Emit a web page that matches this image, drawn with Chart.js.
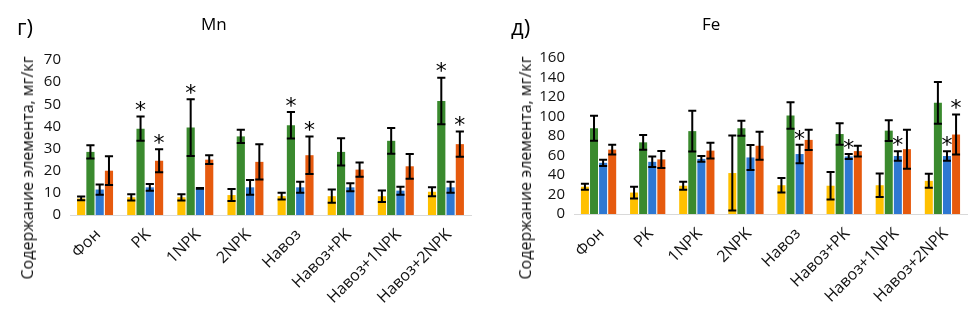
<!DOCTYPE html>
<html>
<head>
<meta charset="utf-8">
<script src="https://cdn.jsdelivr.net/npm/chart.js@4/dist/chart.umd.min.js"></script>
<style>
  html,body{margin:0;padding:0;background:#fff;}
  body{width:975px;height:314px;position:relative;overflow:hidden;font-family:"Open Sans",sans-serif;color:#000;}
  .pane{position:absolute;top:0;height:314px;}
  .lbl{position:absolute;white-space:nowrap;line-height:1;}
  .ytitle{position:absolute;white-space:nowrap;font-size:16px;line-height:1;transform:translate(-50%,-50%) rotate(-90deg);color:#111;}
</style>
</head>
<body>
<div class="pane" style="left:0;width:487px;"><canvas id="c1" width="487" height="314"></canvas></div>
<div class="pane" style="left:487px;width:488px;"><canvas id="c2" width="488" height="314"></canvas></div>

<div class="lbl" style="left:17px;top:15px;font-size:22px;">г)</div>
<div class="lbl" style="left:201px;top:15px;font-size:17px;">Mn</div>
<div class="ytitle" style="left:27px;top:168px;">Содержание элемента, мг/кг</div>

<div class="lbl" style="left:511px;top:15px;font-size:22px;">д)</div>
<div class="lbl" style="left:702px;top:15px;font-size:17px;">Fe</div>
<div class="ytitle" style="left:525px;top:168px;">Содержание элемента, мг/кг</div>

<script>
const categories = ['Фон','PK','1NPK','2NPK','Навоз','Навоз+PK','Навоз+1NPK','Навоз+2NPK'];

// Mn (mg/kg)
const mnYellow    = [7.5, 8, 8, 9, 8.5, 8.5, 8.5, 10.5];
const mnYellowErr = [0.8, 1.4, 1.4, 2.7, 1.5, 3, 2.6, 2];
const mnGreen     = [28.5, 39, 39.5, 35.5, 40.5, 28.5, 33.5, 51.5];
const mnGreenErr  = [3, 5.5, 12.8, 3, 6, 6.2, 5.8, 10.5];
const mnBlue      = [11.5, 12.5, 12, 12.5, 12.5, 12.5, 11, 12.5];
const mnBlueErr   = [2.3, 1.5, 0.2, 3.3, 2.5, 1.8, 1.8, 2.5];
const mnOrange    = [20, 24.5, 25, 24, 27, 20.5, 22, 32];
const mnOrangeErr = [6.5, 5.2, 2, 8, 8.5, 3.2, 5.6, 5.7];
const mnYellowStar = [0,0,0,0,0,0,0,0];
const mnGreenStar  = [0,1,1,0,1,0,0,1];
const mnBlueStar   = [0,0,0,0,0,0,0,0];
const mnOrangeStar = [0,1,0,0,1,0,0,1];
const mnTicks = [0,10,20,30,40,50,60,70];

// Fe (mg/kg)
const feYellow    = [28, 22, 29, 42, 29.5, 29, 29.5, 34];
const feYellowErr = [3, 6, 4, 38.5, 7.5, 14, 12, 7.2];
const feGreen     = [88, 73.5, 85, 88, 101, 82, 85.5, 114];
const feGreenErr  = [12.8, 7.5, 21, 7.7, 13.5, 11, 10.7, 21.5];
const feBlue      = [52.5, 53.5, 56.5, 58, 61.5, 59, 59.5, 59.5];
const feBlueErr   = [3.2, 5.4, 3, 12.8, 9.4, 2.5, 4.8, 4.8];
const feOrange    = [66, 56, 65, 70, 76, 64.5, 66.5, 81.5];
const feOrangeErr = [5, 8.7, 8, 14.3, 10.3, 5.5, 20, 20.5];
const feYellowStar = [0,0,0,0,0,0,0,0];
const feGreenStar  = [0,0,0,0,0,0,0,0];
const feBlueStar   = [0,0,0,0,1,1,1,1];
const feOrangeStar = [0,0,0,0,0,0,0,1];
const feTicks = [0,20,40,60,80,100,120,140,160];

const COLORS = ['#FFC000', '#3A8A2E', '#2E78D2', '#E65A0E'];

const errorBarPlugin = {
  id: 'errbars',
  afterDatasetsDraw(chart) {
    const ctx = chart.ctx;
    const ys = chart.scales.y;
    ctx.save();
    chart.data.datasets.forEach((ds, i) => {
      const meta = chart.getDatasetMeta(i);
      meta.data.forEach((bar, j) => {
        const v = ds.data[j], e = ds.err[j];
        const x = bar.x;
        const hw = bar.width / 2;
        const yT = ys.getPixelForValue(v + e);
        const yB = ys.getPixelForValue(Math.max(0, v - e));
        ctx.strokeStyle = '#000';
        ctx.lineWidth = 2;
        ctx.beginPath();
        ctx.moveTo(x, yT); ctx.lineTo(x, yB);
        ctx.moveTo(x - hw, yT); ctx.lineTo(x + hw, yT);
        ctx.moveTo(x - hw, yB); ctx.lineTo(x + hw, yB);
        ctx.stroke();
        if (ds.star[j]) {
          ctx.fillStyle = '#000';
          ctx.font = '22px "DejaVu Sans"';
          ctx.textAlign = 'center';
          ctx.textBaseline = 'middle';
          ctx.fillText('*', x, yT - 5);
        }
      });
    });
    ctx.restore();
  }
};

const xLabelPlugin = {
  id: 'xlabels',
  afterDraw(chart) {
    const ctx = chart.ctx;
    const xs = chart.scales.x;
    const bottom = chart.chartArea.bottom;
    ctx.save();
    ctx.fillStyle = '#111';
    ctx.font = '16px "Open Sans"';
    ctx.textAlign = 'right';
    ctx.textBaseline = 'middle';
    chart.data.labels.forEach((lab, i) => {
      const x = xs.getPixelForTick(i);
      ctx.save();
      ctx.translate(x + 3, bottom + 17);
      ctx.rotate(-Math.PI / 4);
      ctx.fillText(lab, 0, 0);
      ctx.restore();
    });
    ctx.restore();
  }
};

function makeChart(id, vals, errs, stars, ticks, max, pad, yW) {
  const datasets = vals.map((d, k) => ({
    label: 'S' + (k + 1),
    data: d,
    err: errs[k],
    star: stars[k],
    backgroundColor: COLORS[k],
    borderWidth: 0,
    categoryPercentage: 0.74,
    barPercentage: 0.88
  }));
  return new Chart(document.getElementById(id), {
    type: 'bar',
    data: { labels: categories, datasets },
    options: {
      responsive: false,
      devicePixelRatio: 1,
      animation: false,
      layout: { padding: { left: pad.left, right: pad.right, top: pad.top, bottom: pad.bottom } },
      plugins: { legend: { display: false }, tooltip: { enabled: false } },
      scales: {
        x: {
          grid: { display: false, drawTicks: false },
          border: { display: true, color: '#d9d9d9', width: 1 },
          ticks: { display: false },
          afterFit(s) { s.height = pad.xH; }
        },
        y: {
          min: 0, max: max,
          grid: { display: false, drawTicks: false },
          border: { display: false },
          afterBuildTicks(s) { s.ticks = ticks.map(v => ({ value: v })); },
          ticks: { color: '#111', font: { family: 'Open Sans', size: 15 }, padding: 9, autoSkip: false },
          afterFit(s) { s.width = yW; }
        }
      }
    },
    plugins: [errorBarPlugin, xLabelPlugin]
  });
}

makeChart('c1',
  [mnYellow, mnGreen, mnBlue, mnOrange],
  [mnYellowErr, mnGreenErr, mnBlueErr, mnOrangeErr],
  [mnYellowStar, mnGreenStar, mnBlueStar, mnOrangeStar],
  mnTicks, 70, { left: 0, right: 16, top: 60, bottom: 0, xH: 99 }, 70);

makeChart('c2',
  [feYellow, feGreen, feBlue, feOrange],
  [feYellowErr, feGreenErr, feBlueErr, feOrangeErr],
  [feYellowStar, feGreenStar, feBlueStar, feOrangeStar],
  feTicks, 160, { left: 0, right: 8, top: 58, bottom: 0, xH: 100 }, 87);
</script>
</body>
</html>
